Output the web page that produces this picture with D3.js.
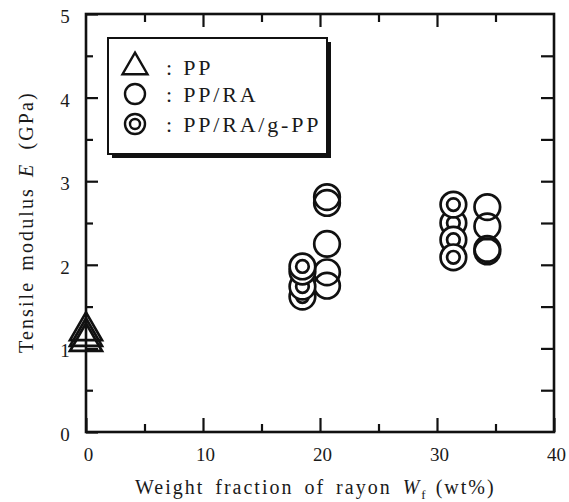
<!DOCTYPE html>
<html>
<head>
<meta charset="utf-8">
<script src="https://cdn.jsdelivr.net/npm/d3@7"></script>
<style>
  html, body { margin: 0; padding: 0; background: #fff; }
  svg { display: block; }
</style>
</head>
<body>
<svg id="chart" width="569" height="502"></svg>
<script>
// Tick values and labels
const xMajorTicks = [0, 10, 20, 30, 40];
const xMinorTicks = [5, 15, 25, 35];
const yMajorTicks = [0, 1, 2, 3, 4, 5];
const yMinorTicks = [0.5, 1.5, 2.5, 3.5, 4.5];
const yRightTicks = [0.5, 1, 1.5, 2, 2.5, 3, 3.5, 4, 4.5];

// PP (neat polypropylene)
const ppWf = [0, 0, 0];
const ppE  = [1.08, 1.14, 1.21];

// PP/RA composites
const raWf = [20.6, 20.6, 20.6, 20.6, 20.6, 34.3, 34.3, 34.3, 34.3];
const raE  = [2.81, 2.74, 2.25, 1.91, 1.75, 2.69, 2.46, 2.19, 2.16];

// PP/RA/g-PP composites (drawn in this order, later ones on top)
const gWf = [18.5, 18.5, 18.5, 18.5, 31.4, 31.4, 31.4, 31.4];
const gE  = [1.62, 1.74, 1.92, 1.98, 2.50, 2.30, 2.09, 2.72];

const legendLabels = [": PP", ": PP/RA", ": PP/RA/g-PP"];

const FONT = '"Liberation Serif", "Times New Roman", serif';
const TEXT = "#1a1a1a";
const svg = d3.select("#chart");
const ink = "#111";

const x = d3.scaleLinear().domain([0, 40]).range([86, 554]);
const y = d3.scaleLinear().domain([0, 5]).range([432, 14]);

// Frame
svg.append("rect")
  .attr("x", x(0)).attr("y", y(5))
  .attr("width", x(40) - x(0)).attr("height", y(0) - y(5))
  .attr("fill", "none").attr("stroke", ink).attr("stroke-width", 2.6);

function styleAxis(g) {
  g.select(".domain").remove();
  g.selectAll(".tick line").attr("stroke", ink).attr("stroke-width", 2.2);
  g.selectAll("text").style("font-family", FONT).style("font-size", "19px").attr("fill", TEXT);
}

// Bottom axis: major with labels, minor without
svg.append("g").attr("transform", `translate(0,${y(0)})`)
  .call(d3.axisBottom(x).tickValues(xMajorTicks).tickSize(-14).tickPadding(16)
        .tickFormat(d3.format("d")))
  .call(styleAxis)
  .call(g => g.selectAll("text").attr("dx", 2));
svg.append("g").attr("transform", `translate(0,${y(0)})`)
  .call(d3.axisBottom(x).tickValues(xMinorTicks).tickSize(-8).tickFormat(""))
  .call(styleAxis);

// Top axis ticks
svg.append("g").attr("transform", `translate(0,${y(5)})`)
  .call(d3.axisTop(x).tickValues(xMajorTicks.slice(1, -1)).tickSize(-13).tickFormat(""))
  .call(styleAxis);
svg.append("g").attr("transform", `translate(0,${y(5)})`)
  .call(d3.axisTop(x).tickValues(xMinorTicks).tickSize(-8).tickFormat(""))
  .call(styleAxis);

// Left axis
svg.append("g").attr("transform", `translate(${x(0)},0)`)
  .call(d3.axisLeft(y).tickValues(yMajorTicks).tickSize(-12).tickPadding(16)
        .tickFormat(d3.format("d")))
  .call(styleAxis)
  .call(g => g.selectAll("text").attr("text-anchor", "middle").attr("x", -21).attr("dy", "0.45em"));
svg.append("g").attr("transform", `translate(${x(0)},0)`)
  .call(d3.axisLeft(y).tickValues(yMinorTicks).tickSize(-7).tickFormat(""))
  .call(styleAxis);

// Right axis ticks
svg.append("g").attr("transform", `translate(${x(40)},0)`)
  .call(d3.axisRight(y).tickValues(yRightTicks).tickSize(-13).tickFormat(""))
  .call(styleAxis);

// Axis titles
const xt = svg.append("text")
  .attr("x", 135).attr("y", 494).attr("fill", TEXT)
  .style("font-family", FONT).style("font-size", "20px")
  .style("letter-spacing", "2px").style("word-spacing", "4px");
xt.append("tspan").text("Weight fraction of rayon ");
xt.append("tspan").style("font-style", "italic").text("W");
xt.append("tspan").style("font-size", "13px").attr("dy", 5).text("f");
xt.append("tspan").attr("dy", -5).attr("dx", 8).text("(wt%)");

const yt = svg.append("text")
  .attr("transform", "translate(33,353) rotate(-90)").attr("fill", TEXT)
  .style("font-family", FONT).style("font-size", "20px")
  .style("letter-spacing", "2.1px").style("word-spacing", "3px");
yt.append("tspan").text("Tensile modulus ");
yt.append("tspan").style("font-style", "italic").text("E");
yt.append("tspan").attr("dx", 3).text(" (GPa)");

// Marker generators
const markerStroke = 2.7;
const triPath = s => d3.symbol().type(d3.symbolTriangle).size(Math.sqrt(3) / 4 * s * s)();
const circPath = r => d3.symbol().type(d3.symbolCircle).size(Math.PI * r * r)();

const R = 12.8, RIN = 6.3;

// PP triangles
svg.append("g").selectAll("path").data(ppE).join("path")
  .attr("transform", (d, i) => `translate(${x(ppWf[i])},${y(d)})`)
  .attr("d", triPath(32))
  .attr("fill", "none").attr("stroke", ink).attr("stroke-width", markerStroke);

// PP/RA open circles
svg.append("g").selectAll("path").data(raE).join("path")
  .attr("transform", (d, i) => `translate(${x(raWf[i])},${y(d)})`)
  .attr("d", circPath(R))
  .attr("fill", "none").attr("stroke", ink).attr("stroke-width", markerStroke);

// PP/RA/g-PP double circles
const ring = svg.append("g").selectAll("g").data(gE).join("g")
  .attr("transform", (d, i) => `translate(${x(gWf[i])},${y(d)})`);
ring.append("path").attr("d", circPath(R))
  .attr("fill", "#fff").attr("stroke", ink).attr("stroke-width", markerStroke);
ring.append("path").attr("d", circPath(RIN))
  .attr("fill", "none").attr("stroke", ink).attr("stroke-width", markerStroke);

// Legend box with drop shadow
const lg = svg.append("g");
lg.append("rect").attr("x", 112).attr("y", 42).attr("width", 219).attr("height", 116)
  .attr("fill", ink);
lg.append("rect").attr("x", 108).attr("y", 38).attr("width", 219).attr("height", 116)
  .attr("fill", "#fff").attr("stroke", ink).attr("stroke-width", 2);

const legendY = [67, 94, 124];
lg.append("path").attr("transform", `translate(135,${legendY[0]})`)
  .attr("d", triPath(25)).attr("fill", "none").attr("stroke", ink).attr("stroke-width", 2.4);
lg.append("path").attr("transform", `translate(135,${legendY[1]})`)
  .attr("d", circPath(10)).attr("fill", "none").attr("stroke", ink).attr("stroke-width", 2.4);
lg.append("path").attr("transform", `translate(135,${legendY[2]})`)
  .attr("d", circPath(10)).attr("fill", "none").attr("stroke", ink).attr("stroke-width", 2.4);
lg.append("path").attr("transform", `translate(135,${legendY[2]})`)
  .attr("d", circPath(5)).attr("fill", "none").attr("stroke", ink).attr("stroke-width", 2.4);

lg.selectAll("text.lab").data(legendLabels).join("text").attr("class", "lab")
  .attr("x", 166).attr("y", (d, i) => legendY[i] + 8).attr("fill", TEXT)
  .style("font-family", FONT).style("font-size", "22px").style("letter-spacing", "2.8px")
  .text(d => d);
</script>
</body>
</html>
